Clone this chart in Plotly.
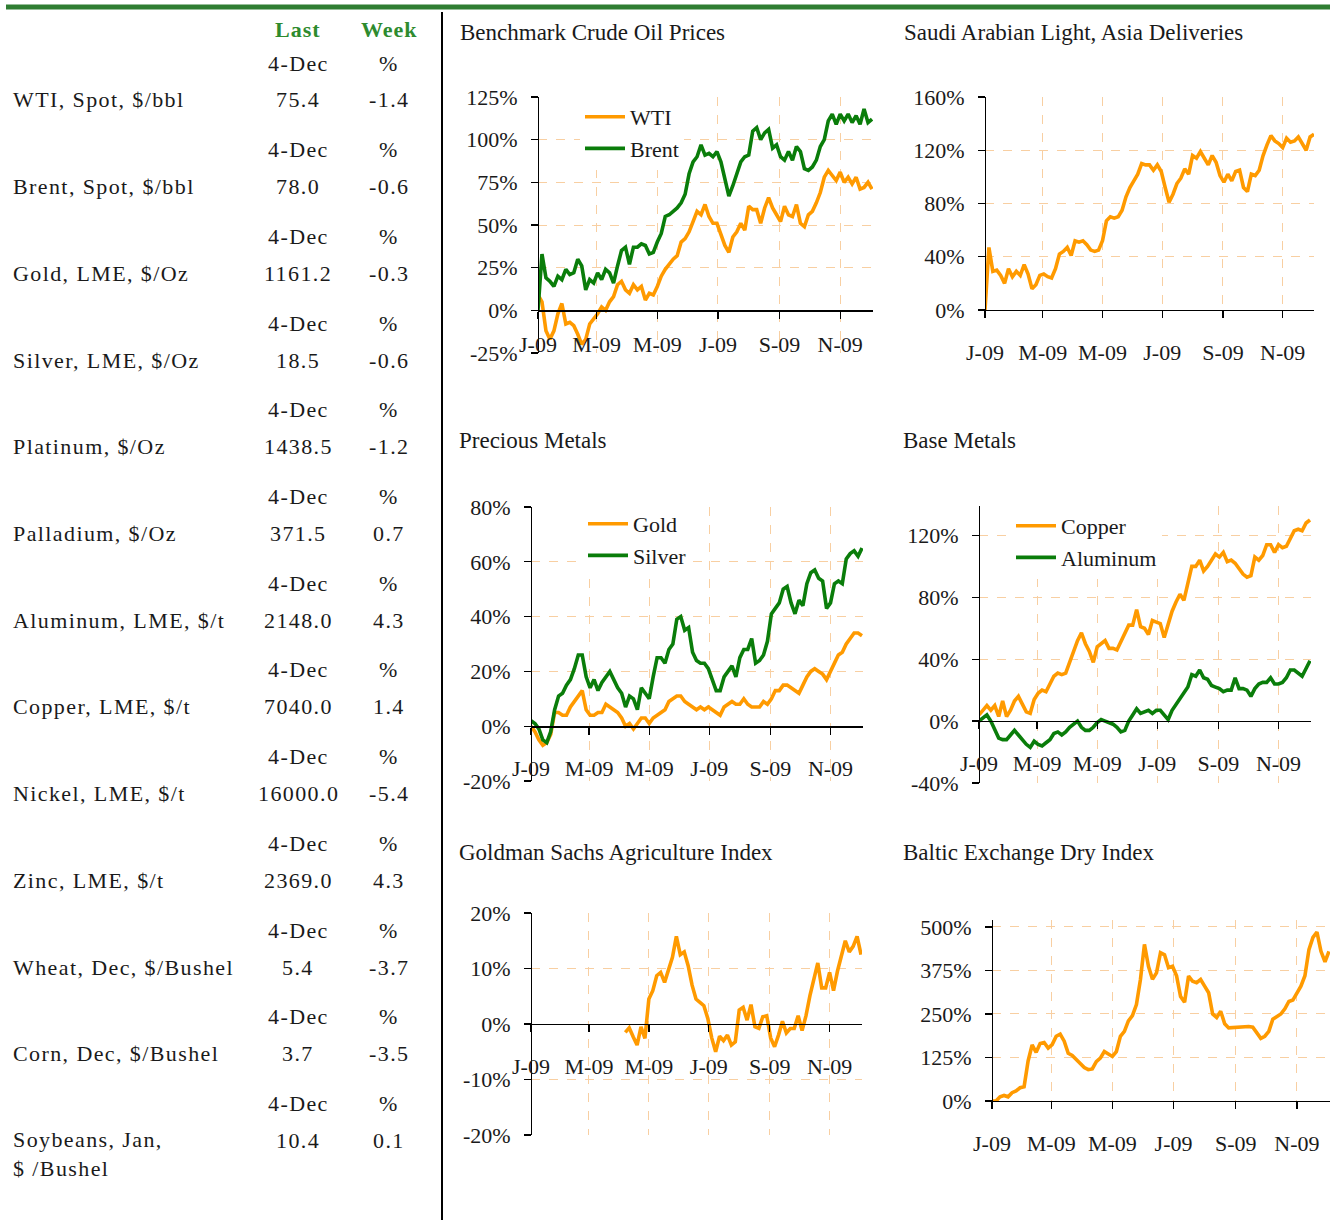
import plotly.graph_objects as go
import pandas as pd

W, H = 1330, 1220
FONT = "Liberation Serif"
ORANGE = "#FF9A00"
GREEN = "#0A7D0A"
GRID = "#F8CFA2"
HEAD_GREEN = "#2E8B2E"
TXT = "#1a1a1a"

# ---------------- data ----------------
# 4-day sampling grid, Jan 1 .. Dec 3, 2009 (85 points)
dates = pd.date_range("2009-01-01", periods=85, freq="4D")

wti = [9, 5, -12, -17, -12, -2, 4, -8, -7, -9,
       -14, -20, -17, -8, -5, -2, 2, 0, 5, 8,
       15, 17, 12, 10, 15, 12, 14, 6, 10, 9,
       14, 20, 24, 27, 30, 32, 40, 42, 46, 52,
       58, 56, 62, 55, 51, 51, 45, 38, 34, 43,
       46, 51, 47, 61, 59, 59, 51, 60, 66, 60,
       56, 52, 61, 56, 55, 62, 51, 49, 56, 58,
       63, 69, 78, 82, 79, 76, 81, 75, 78, 74,
       78, 71, 72, 75, 71]
brent = [0, 33, 19, 17, 14, 20, 18, 24, 21, 22,
         30, 26, 12, 18, 16, 22, 18, 24, 22, 16,
         26, 35, 37, 27, 37, 37, 39, 38, 33, 34,
         40, 45, 55, 56, 58, 60, 63, 68, 80, 87,
         90, 97, 91, 92, 90, 93, 87, 76, 67, 73,
         80, 87, 90, 91, 105, 107, 100, 104, 106, 95,
         97, 90, 88, 93, 88, 96, 93, 83, 82, 84,
         88, 96, 100, 111, 115, 109, 115, 111, 115, 110,
         114, 109, 118, 110, 112]
saudi = [0, 47, 29, 30, 26, 20, 31, 25, 29, 26,
         34, 27, 16, 19, 26, 27, 25, 24, 31, 42,
         44, 47, 41, 52, 51, 52, 49, 45, 44, 45,
         52, 67, 70, 69, 70, 75, 85, 92, 97, 102,
         110, 109, 109, 105, 109, 104, 92, 81, 87, 95,
         99, 106, 102, 116, 114, 119, 114, 109, 116, 111,
         101, 96, 102, 97, 104, 105, 92, 89, 102, 101,
         105, 116, 124, 131, 127, 125, 122, 129, 126, 127,
         130, 125, 120, 130, 132]
gold = [0, -2, -5, -7, -6, -3, 5, 5, 4, 4,
        7, 9, 11, 13, 6, 4, 4, 5, 5, 8,
        7, 6, 5, 3, 0, 1, -1, 1, 3, 3,
        1, 3, 4, 5, 6, 9, 10, 11, 11, 9,
        8, 7, 6, 7, 6, 7, 6, 5, 4, 7,
        8, 9, 8, 8, 10, 8, 7, 7, 7, 9,
        8, 10, 13, 13, 15, 15, 14, 13, 12, 15,
        18, 20, 21, 20, 19, 17, 20, 23, 26, 27,
        30, 32, 34, 34, 33]
silver = [2, 1, -1, -5, -6, -2, 6, 11, 12, 15,
          17, 21, 26, 26, 18, 14, 17, 13, 16, 18,
          20, 17, 14, 12, 7, 11, 10, 6, 14, 12,
          10, 18, 25, 25, 23, 28, 30, 39, 40, 35,
          36, 27, 24, 23, 23, 21, 17, 13, 13, 18,
          20, 22, 18, 25, 28, 28, 32, 23, 24, 26,
          31, 41, 43, 45, 50, 51, 45, 41, 46, 44,
          52, 56, 57, 54, 53, 43, 45, 52, 53, 52,
          61, 63, 64, 62, 65]
copper = [4, 7, 10, 7, 10, 3, 13, 3, 7, 13,
          16, 11, 6, 5, 14, 18, 20, 19, 24, 29,
          31, 30, 31, 38, 46, 52, 57, 50, 45, 38,
          48, 50, 52, 47, 47, 46, 51, 56, 62, 62,
          72, 61, 60, 56, 65, 64, 63, 54, 63, 71,
          77, 82, 78, 89, 100, 100, 104, 97, 100, 104,
          108, 106, 109, 103, 104, 102, 98, 95, 93, 94,
          106, 104, 107, 114, 114, 109, 114, 112, 113, 118,
          123, 124, 123, 128, 130]
aluminum = [0, 2, 4, 0, -6, -11, -12, -12, -9, -6,
            -9, -12, -15, -17, -13, -15, -16, -14, -12, -8,
            -7, -9, -7, -4, -2, 0, -4, -6, -6, -4,
            -1, 1, 0, -1, -2, -4, -7, -6, 0, 4,
            8, 5, 6, 7, 5, 7, 7, 4, 1, 7,
            11, 15, 18, 22, 30, 29, 33, 28, 27, 23,
            22, 21, 19, 20, 20, 28, 21, 21, 20, 16,
            21, 24, 25, 25, 28, 24, 24, 25, 28, 33,
            33, 31, 29, 34, 39]
agri = [None] * 24 + [
    -1.5, -0.7, -2.3, -3.8, -0.5, -2.6, 4.5, 6, 8.7, 9.3,
    7.5, 10, 12, 15.8, 12.5, 13, 10.5, 7, 4.5, 3.9,
    3.3, 1, -2.5, -5, -2.2, -3, -2, -3.8, -3.2, 2.5,
    3, 0.7, 3.5, -0.5, -0.8, 1.3, 1.5, -2.5, -4.1, -2,
    0.5, -1.6, -0.8, -0.8, 1.5, -1.2, 1.5, 5.1, 8, 11,
    6.5, 6.5, 9.3, 6, 9.5, 12, 15, 13, 14, 15.8,
    12.5]
baltic = [0, 0, 12, 16, 12, 24, 29, 38, 41, 115,
          161, 140, 165, 168, 152, 162, 186, 192, 172, 137,
          131, 121, 108, 96, 90, 92, 113, 123, 142, 135,
          128, 142, 186, 200, 230, 245, 277, 349, 450, 387,
          350, 368, 426, 420, 383, 387, 360, 300, 284, 359,
          344, 340, 349, 330, 311, 250, 240, 258, 222, 210,
          211, 212, 212, 213, 214, 212, 195, 180, 186, 200,
          235, 243, 250, 265, 286, 290, 310, 330, 360, 435,
          470, 485, 430, 400, 430]

x_tickvals = ["2009-01-01", "2009-03-01", "2009-05-01", "2009-07-01", "2009-09-01", "2009-11-01"]
x_ticktext = ["J-09", "M-09", "M-09", "J-09", "S-09", "N-09"]

# table
row_labels = ["WTI, Spot, $/bbl", "Brent, Spot, $/bbl", "Gold, LME, $/Oz", "Silver, LME, $/Oz",
              "Platinum, $/Oz", "Palladium, $/Oz", "Aluminum, LME, $/t", "Copper, LME, $/t",
              "Nickel, LME, $/t", "Zinc, LME, $/t", "Wheat, Dec, $/Bushel", "Corn, Dec, $/Bushel",
              "Soybeans, Jan,<br>$ /Bushel"]
last_vals = [75.4, 78.0, 1161.2, 18.5, 1438.5, 371.5, 2148.0, 7040.0, 16000.0, 2369.0, 5.4, 3.7, 10.4]
week_vals = [-1.4, -0.6, -0.3, -0.6, -1.2, 0.7, 4.3, 1.4, -5.4, 4.3, -3.7, -3.5, 0.1]
date_label = "4-Dec"
col_heads = ["Last", "Week"]


# ---------------- layout helpers ----------------
def px(x):
    return x / W


def py(y):
    return 1 - y / H


def spaced(t, s=1.4):
    return f'<span style="letter-spacing:{s}px">{t}</span>'


charts = [
    dict(title="Benchmark Crude Oil Prices", tpos=(458, 33), box=(538, 873, 97, 353),
         yr=(-25, 125), yt=[-25, 0, 25, 50, 75, 100, 125], cross=0, xend="2009-12-04", stand=7,
         series=[("WTI", wti, ORANGE), ("Brent", brent, GREEN)], leg=(580, 96)),
    dict(title="Saudi Arabian Light, Asia Deliveries", tpos=(902, 33), box=(985, 1314, 97, 310),
         yr=(0, 160), yt=[0, 40, 80, 120, 160], cross=0, xend="2009-12-03", stand=15,
         series=[("Saudi Arabian Light", saudi, ORANGE)], leg=None),
    dict(title="Precious Metals", tpos=(457, 441), box=(531, 863, 507, 781),
         yr=(-20, 80), yt=[-20, 0, 20, 40, 60, 80], cross=0, xend="2009-12-04", stand=15,
         series=[("Gold", gold, ORANGE), ("Silver", silver, GREEN)], leg=(583, 503)),
    dict(title="Base Metals", tpos=(901, 441), box=(979, 1311, 506, 783),
         yr=(-40, 139), yt=[-40, 0, 40, 80, 120], cross=0, xend="2009-12-04", stand=15,
         series=[("Copper", copper, ORANGE), ("Aluminum", aluminum, GREEN)], leg=(1011, 505)),
    dict(title="Goldman Sachs Agriculture Index", tpos=(457, 852), box=(531, 862, 913, 1135),
         yr=(-20, 20), yt=[-20, -10, 0, 10, 20], cross=0, xend="2009-12-04", stand=15,
         series=[("GS Agriculture", agri, ORANGE)], leg=None),
    dict(title="Baltic Exchange Dry Index", tpos=(901, 852), box=(992, 1330, 920, 1101),
         yr=(0, 520), yt=[0, 125, 250, 375, 500], cross=0, xend="2009-12-04", stand=15,
         series=[("Baltic Dry", baltic, ORANGE)], leg=None),
]

fig = go.Figure()
layout = dict(
    template="none",
    width=W, height=H, autosize=False,
    margin=dict(l=0, r=0, t=0, b=0, pad=0, autoexpand=False),
    paper_bgcolor="white", plot_bgcolor="rgba(0,0,0,0)",
    font=dict(family=FONT, size=22, color=TXT),
    showlegend=True,
)
annotations = []
shapes = []

for i, c in enumerate(charts, start=1):
    L, R, T, B = c["box"]
    ymin, ymax = c["yr"]
    xa = "x" if i == 1 else f"x{i}"
    ya = "y" if i == 1 else f"y{i}"
    leg_name = "legend" if i == 1 else f"legend{i}"
    for name, vals, col in c["series"]:
        fig.add_trace(go.Scatter(
            x=dates, y=vals, name=name, mode="lines",
            line=dict(color=col, width=3.6), xaxis=xa, yaxis=ya,
            showlegend=c["leg"] is not None, legend=leg_name,
            connectgaps=False, hoverinfo="skip",
        ))
    ydom = [py(B), py(T)]
    pos = ydom[0] + (c["cross"] - ymin) / (ymax - ymin) * (ydom[1] - ydom[0])
    xkey = "xaxis" if i == 1 else f"xaxis{i}"
    ykey = "yaxis" if i == 1 else f"yaxis{i}"
    common = dict(
        showline=True, linecolor="black", linewidth=1.3,
        ticks="outside", ticklen=7, tickcolor="black", tickwidth=1.3,
        showgrid=True, gridcolor=GRID, griddash="dash", gridwidth=1,
        zeroline=False, tickfont=dict(size=22, family=FONT, color=TXT),
        fixedrange=True, automargin=False,
    )
    layout[xkey] = dict(
        domain=[px(L), px(R)], anchor="free", position=pos,
        type="date", range=["2009-01-01", c["xend"]],
        tickvals=x_tickvals, ticktext=x_ticktext,
        ticklabelstandoff=c["stand"], **common,
    )
    layout[ykey] = dict(
        domain=ydom, anchor="free", position=px(L), range=[ymin, ymax],
        tickvals=c["yt"], ticktext=[f"{v}%" for v in c["yt"]],
        ticklabelstandoff=9, **common,
    )
    if c["leg"] is not None:
        lx, ly = c["leg"]
        layout[leg_name] = dict(
            x=px(lx), y=py(ly), xanchor="left", yanchor="top",
            bgcolor="white", borderwidth=0, font=dict(size=22, family=FONT, color=TXT),
            tracegroupgap=0, itemwidth=40,
        )
    tx, ty = c["tpos"]
    annotations.append(dict(
        text=c["title"], x=px(tx), y=py(ty), xref="paper", yref="paper",
        xanchor="left", yanchor="middle", showarrow=False,
        font=dict(size=23, family=FONT, color=TXT),
    ))

# table
for head, xx in zip(col_heads, (298, 389)):
    annotations.append(dict(text=f"<b>{spaced(head, 1.0)}</b>", x=px(xx), y=py(29), xref="paper",
                            yref="paper", xanchor="center", yanchor="middle", showarrow=False,
                            font=dict(size=22, family=FONT, color=HEAD_GREEN)))
for k, (lab, lv, wv) in enumerate(zip(row_labels, last_vals, week_vals)):
    yv = 100 + k * 86.7
    yh = yv - 37
    for txt, xx in ((date_label, 298), ("%", 389)):
        annotations.append(dict(text=spaced(txt), x=px(xx), y=py(yh), xref="paper", yref="paper",
                                xanchor="center", yanchor="middle", showarrow=False,
                                font=dict(size=22, family=FONT, color=TXT)))
    if "<br>" in lab:
        parts = lab.split("<br>")
        annotations.append(dict(text="<br>".join(spaced(p) for p in parts), x=px(11), y=py(yv - 15),
                                xref="paper", yref="paper", xanchor="left", yanchor="top",
                                align="left", showarrow=False,
                                font=dict(size=22, family=FONT, color=TXT)))
    else:
        annotations.append(dict(text=spaced(lab), x=px(11), y=py(yv), xref="paper", yref="paper",
                                xanchor="left", yanchor="middle", showarrow=False,
                                font=dict(size=22, family=FONT, color=TXT)))
    annotations.append(dict(text=spaced(f"{lv:.1f}"), x=px(298), y=py(yv), xref="paper", yref="paper",
                            xanchor="center", yanchor="middle", showarrow=False,
                            font=dict(size=22, family=FONT, color=TXT)))
    annotations.append(dict(text=spaced(f"{wv:.1f}"), x=px(389), y=py(yv), xref="paper", yref="paper",
                            xanchor="center", yanchor="middle", showarrow=False,
                            font=dict(size=22, family=FONT, color=TXT)))

# decorations
shapes.append(dict(type="line", xref="paper", yref="paper", x0=px(6), x1=1, y0=py(7), y1=py(7),
                   line=dict(color="#2F7D32", width=5)))
shapes.append(dict(type="line", xref="paper", yref="paper", x0=px(442), x1=px(442), y0=py(12), y1=0,
                   line=dict(color="black", width=2)))

layout["annotations"] = annotations
layout["shapes"] = shapes
fig.update_layout(**layout)
fig.write_html("out.html", config={"displayModeBar": False, "staticPlot": True},
               post_script="document.body.style.margin='0';document.body.style.overflow='hidden';")
